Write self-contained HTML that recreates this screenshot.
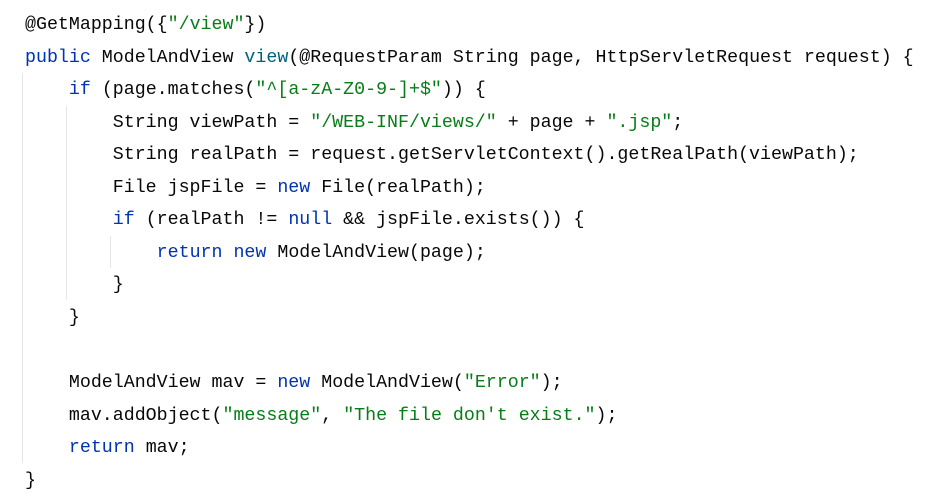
<!DOCTYPE html>
<html><head><style>
body{margin:0;background:#fff;width:939px;height:496px;overflow:hidden;position:relative}
pre{position:absolute;left:25px;top:9px;margin:0;font-family:"Liberation Mono",monospace;font-size:18.3px;line-height:32.55px;color:#080808}
.k{color:#0033b3}.s{color:#067d17}.m{color:#00627a}
.g{position:absolute;width:1px;background:#e6e6e6}
</style></head><body>
<div class="g" style="left:22px;top:73px;height:390px"></div>
<div class="g" style="left:66px;top:106px;height:194px"></div>
<div class="g" style="left:110px;top:236px;height:32px"></div>
<pre>@GetMapping({<span class="s">"/view"</span>})
<span class="k">public</span> ModelAndView <span class="m">view</span>(@RequestParam String page, HttpServletRequest request) {
    <span class="k">if</span> (page.matches(<span class="s">"^[a-zA-Z0-9-]+$"</span>)) {
        String viewPath = <span class="s">"/WEB-INF/views/"</span> + page + <span class="s">".jsp"</span>;
        String realPath = request.getServletContext().getRealPath(viewPath);
        File jspFile = <span class="k">new</span> File(realPath);
        <span class="k">if</span> (realPath != <span class="k">null</span> &amp;&amp; jspFile.exists()) {
            <span class="k">return new</span> ModelAndView(page);
        }
    }

    ModelAndView mav = <span class="k">new</span> ModelAndView(<span class="s">"Error"</span>);
    mav.addObject(<span class="s">"message"</span>, <span class="s">"The file don't exist."</span>);
    <span class="k">return</span> mav;
}</pre>
</body></html>
